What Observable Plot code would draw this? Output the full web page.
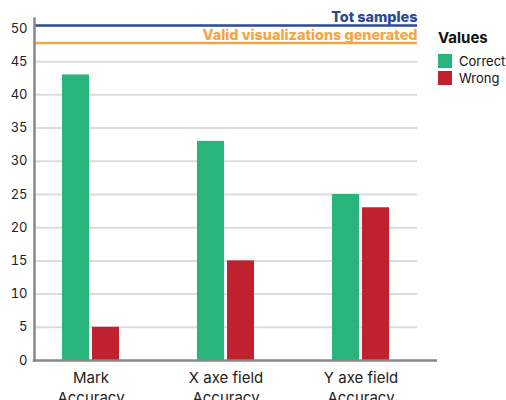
<!DOCTYPE html>
<html><head><meta charset="utf-8">
<script src="https://cdn.jsdelivr.net/npm/d3@7"></script>
<script src="https://cdn.jsdelivr.net/npm/@observablehq/plot@0.6"></script>
<style>
body{margin:0;background:#fff;font-family:"Inter",sans-serif}
#wrap{position:relative;width:506px;height:400px;overflow:hidden}
#legend{position:absolute;left:438px;top:28px;font-family:"Inter",sans-serif;color:#111}
#legend .title{font-weight:bold;font-size:15px;margin-bottom:5px}
#legend .item{display:flex;align-items:center;height:17px;font-size:13px}
#legend .sw{width:14px;height:14px;margin-right:7px}
</style></head><body><div id="wrap"></div>
<script>
const categories = ["Mark Accuracy", "X axe field Accuracy", "Y axe field Accuracy"];
const categoryLabels = ["Mark\nAccuracy", "X axe field\nAccuracy", "Y axe field\nAccuracy"];
const series = ["Correct", "Wrong"];
const seriesColors = ["#29b47b", "#c0212f"];
const correctValues = [43, 33, 25];
const wrongValues = [5, 15, 23];
const refLabels = ["Tot samples", "Valid visualizations generated"];
const refValues = [50.45, 47.8];
const refColors = ["#2b4a94", "#f5a640"];
const yTicks = [0, 5, 10, 15, 20, 25, 30, 35, 40, 45, 50];
const gridTicks = [5, 10, 15, 20, 25, 30, 35, 40, 45];
const FONT = "'Inter', sans-serif";

const rows = categories.flatMap((c, i) => [
  {category: c, series: series[0], value: correctValues[i]},
  {category: c, series: series[1], value: wrongValues[i]}
]);

const refMarks = refLabels.flatMap((label, i) => [
  Plot.ruleY([refValues[i]], {stroke: refColors[i], strokeWidth: 2.5}),
  Plot.text([refValues[i]], {y: d => d, text: () => label, fill: refColors[i], frameAnchor: "right", textAnchor: "end", lineAnchor: "bottom", dy: -3, fontWeight: 800, fontSize: 14.4})
]);

const chart = Plot.plot({
  width: 506, height: 400,
  marginLeft: 34, marginRight: 89, marginTop: 18, marginBottom: 40,
  style: {fontFamily: FONT, background: "transparent", color: "#222"},
  x: {domain: categories, paddingInner: 0.578, paddingOuter: 0.2074, align: 0.5, label: null},
  y: {domain: [0, 51.5], label: null},
  color: {domain: series, range: seriesColors},
  marks: [
    Plot.gridY(gridTicks, {stroke: "#dcdcdc", strokeOpacity: 1, strokeWidth: 2}),
    Plot.barY(rows.filter(d => d.series === series[0]), {x: "category", y: "value", fill: "series", insetLeft: 0, insetRight: 30}),
    Plot.barY(rows.filter(d => d.series === series[1]), {x: "category", y: "value", fill: "series", insetLeft: 30, insetRight: 0}),
    ...refMarks,
    Plot.axisY({ticks: yTicks, tickSize: 0, tickPadding: 7, fontSize: 13, label: null}),
    Plot.axisX({tickSize: 0, tickPadding: 9, fontSize: 15, lineHeight: 1.3, tickFormat: d => categoryLabels[categories.indexOf(d)], label: null}),
    Plot.frame({anchor: "left", stroke: "#888", strokeWidth: 2.5}),
    Plot.ruleY([0], {stroke: "#888", strokeWidth: 2.5, insetLeft: -1.25, insetRight: -20})
  ]
});

const wrap = document.getElementById("wrap");
wrap.appendChild(chart);

const legend = document.createElement("div");
legend.id = "legend";
legend.innerHTML = `<div class="title">Values</div>` + series.map((s, i) =>
  `<div class="item"><div class="sw" style="background:${seriesColors[i]}"></div>${s}</div>`).join("");
wrap.appendChild(legend);
</script>
</body></html>
